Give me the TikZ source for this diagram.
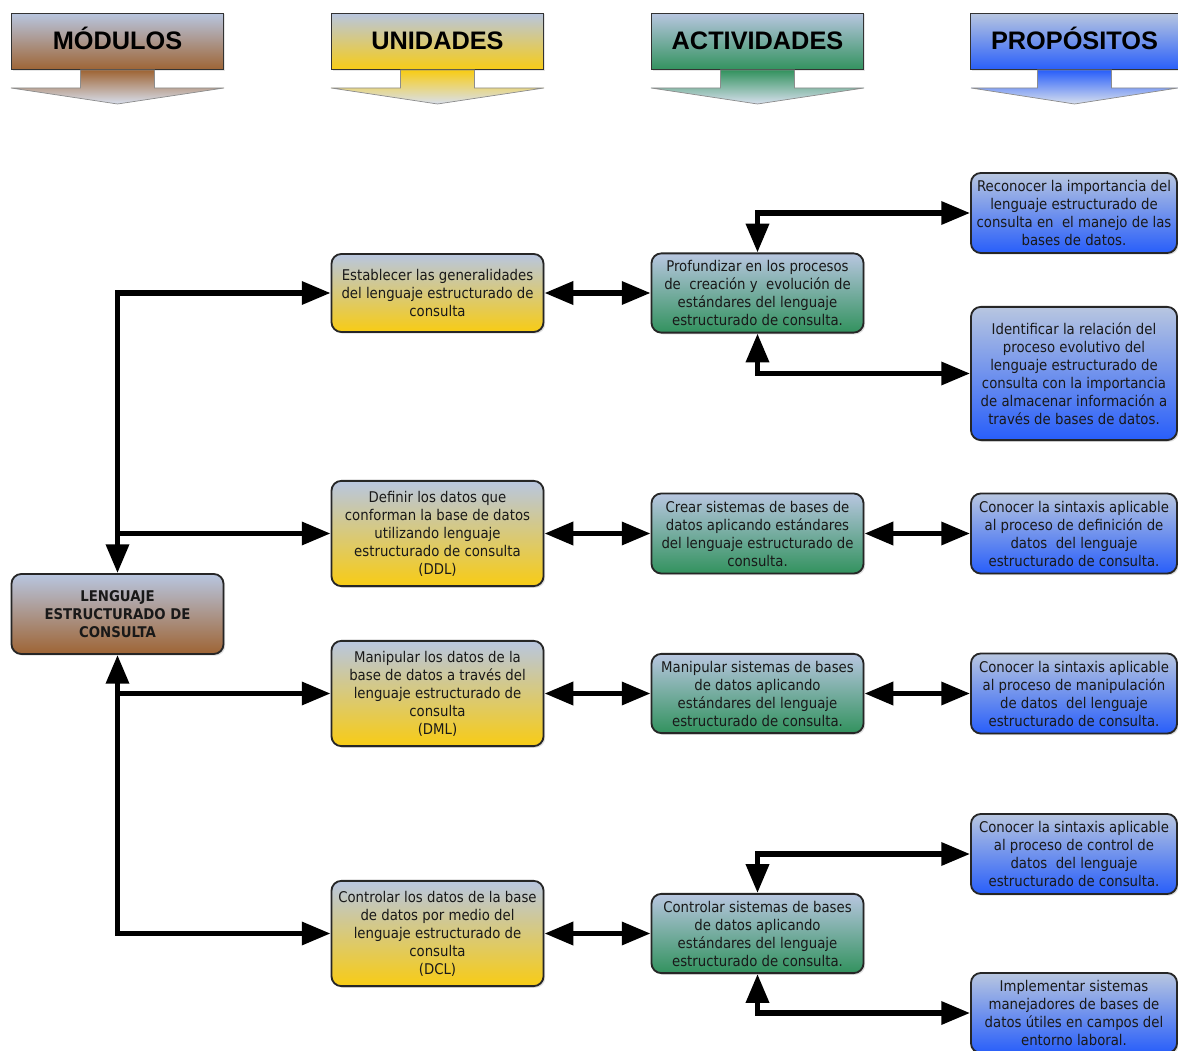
\documentclass[tikz,border=0pt]{standalone}
\usepackage{fontspec}
\setmainfont{DejaVu Sans Condensed}
\newfontfamily\headfont{Liberation Sans}
\usepackage{tikz}
\usetikzlibrary{arrows.meta,shadows}
\definecolor{topgray}{RGB}{184,198,224}
\definecolor{modbrown}{RGB}{158,100,52}
\definecolor{uniyellow}{RGB}{248,204,20}
\definecolor{actgreen}{RGB}{50,146,94}
\definecolor{problue}{RGB}{40,94,250}
\tikzset{
  box/.style = {align=center, rounded corners=7pt, draw=black!85, line width=1.3pt,
    inner sep=2pt, text=black!90, font=\fontsize{10.5}{12.8}\selectfont,
    minimum width=5.3cm, top color=topgray,
    drop shadow={opacity=0.25, shadow xshift=1.2pt, shadow yshift=-1.2pt}},
  modbox/.style = {box, bottom color=modbrown, font=\bfseries\fontsize{10.5}{12.8}\selectfont},
  unibox/.style = {box, bottom color=uniyellow},
  actbox/.style = {box, bottom color=actgreen},
  probox/.style = {box, bottom color=problue, minimum width=5.15cm},
  headbox/.style = {draw=black!80, line width=0.8pt, minimum width=5.3cm,
    minimum height=1.42cm, text height=13pt, text depth=1pt,
    top color=topgray, bottom color=#1,
    font=\headfont\bfseries\fontsize{18}{20}\selectfont,
    drop shadow={opacity=0.2, shadow xshift=1pt, shadow yshift=-1pt}},
  link/.style = {line width=3.8pt, black,
    >={Triangle[length=0.72cm, width=0.56cm]}}
}

\begin{document}
\begin{tikzpicture}[x=0.025cm, y=-0.025cm]
\useasboundingbox (0,0) rectangle (1178,1051);

\node[headbox=modbrown] (h1) at (117.5,41.5) {MÓDULOS};
\node[headbox=uniyellow] (h2) at (437.5,41.5) {UNIDADES};
\node[headbox=actgreen] (h3) at (757.5,41.5) {ACTIVIDADES};
\node[headbox=problue, minimum width=5.18cm] (h4) at (1074.5,41.5) {PROPÓSITOS};

\foreach \c/\w/\col in {117.5/106.5/modbrown, 437.5/106.5/uniyellow, 757.5/106.5/actgreen, 1074.5/103.5/problue}
  \path[draw=black!45, line width=0.5pt, top color=\col, bottom color=topgray!55!white]
    (\c-37,70) -- (\c-37,88) -- (\c-\w,88) -- (\c,104) -- (\c+\w,88) -- (\c+37,88) -- (\c+37,70) -- cycle;

\node[modbox, minimum height=2cm] (m) at (117.5,614) {LENGUAJE\\ESTRUCTURADO DE\\CONSULTA};

\node[unibox, minimum height=1.95cm] (u1) at (437.5,293) {Establecer las generalidades\\del lenguaje estructurado de\\consulta};
\node[unibox, minimum height=2.63cm] (u2) at (437.5,533.5) {Definir los datos que\\conforman la base de datos\\utilizando lenguaje\\estructurado de consulta\\(DDL)};
\node[unibox, minimum height=2.63cm] (u3) at (437.5,693.5) {Manipular los datos de la\\base de datos a través del\\lenguaje estructurado de\\consulta\\(DML)};
\node[unibox, minimum height=2.63cm] (u4) at (437.5,933.5) {Controlar los datos de la base\\de datos por medio del\\lenguaje estructurado de\\consulta\\(DCL)};

\node[actbox, minimum height=1.98cm] (a1) at (757.5,293) {Profundizar en los procesos\\de\ \ creación y\ \ evolución de\\estándares del lenguaje\\estructurado de consulta.};
\node[actbox, minimum height=2cm] (a2) at (757.5,533.5) {Crear sistemas de bases de\\datos aplicando estándares\\del lenguaje estructurado de\\consulta.};
\node[actbox, minimum height=1.98cm] (a3) at (757.5,693.5) {Manipular sistemas de bases\\de datos aplicando\\estándares del lenguaje\\estructurado de consulta.};
\node[actbox, minimum height=1.98cm] (a4) at (757.5,933.5) {Controlar sistemas de bases\\de datos aplicando\\estándares del lenguaje\\estructurado de consulta.};

\node[probox, minimum height=2cm] (p1) at (1074,213) {Reconocer la importancia del\\lenguaje estructurado de\\consulta en\ \ el manejo de las\\bases de datos.};
\node[probox, minimum height=3.33cm] (p2) at (1074,373.5) {Identificar la relación del\\proceso evolutivo del\\lenguaje estructurado de\\consulta con la importancia\\de almacenar información a\\través de bases de datos.};
\node[probox, minimum height=2cm] (p3) at (1074,533.5) {Conocer la sintaxis aplicable\\al proceso de definición de\\datos\ \ del lenguaje\\estructurado de consulta.};
\node[probox, minimum height=2cm] (p4) at (1074,693.5) {Conocer la sintaxis aplicable\\al proceso de manipulación\\de datos\ \ del lenguaje\\estructurado de consulta.};
\node[probox, minimum height=2cm] (p5) at (1074,854) {Conocer la sintaxis aplicable\\al proceso de control de\\datos\ \ del lenguaje\\estructurado de consulta.};
\node[probox, minimum height=2cm] (p6) at (1074,1013) {Implementar sistemas\\manejadores de bases de\\datos útiles en campos del\\entorno laboral.};

\draw[link,<->] (u1.west) -| (m.north);
\draw[link,->] (u2.west -| m.north) -- (u2.west);
\draw[link,<->] (u4.west) -| (m.south);
\draw[link,->] (u3.west -| m.south) -- (u3.west);

\draw[link,<->] (u1.east) -- (a1.west);
\draw[link,<->] (u2.east) -- (a2.west);
\draw[link,<->] (u3.east) -- (a3.west);
\draw[link,<->] (u4.east) -- (a4.west);

\draw[link,<->] (a1.north) |- (p1.west);
\draw[link,<->] (a1.south) |- (p2.west);
\draw[link,<->] (a2.east) -- (p3.west);
\draw[link,<->] (a3.east) -- (p4.west);
\draw[link,<->] (a4.north) |- (p5.west);
\draw[link,<->] (a4.south) |- (p6.west);
\end{tikzpicture}
\end{document}
